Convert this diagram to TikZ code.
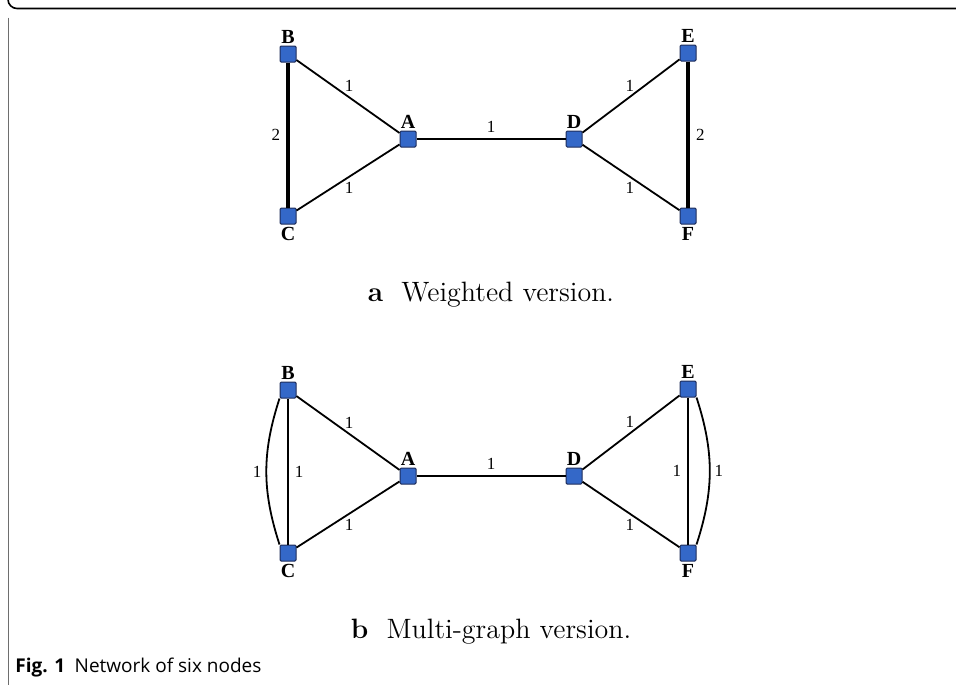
\documentclass[tikz,border=0pt]{standalone}
\usepackage{fontspec}
\newfontfamily\graphfont{Liberation Serif}
\newfontfamily\capfont{Open Sans}
\usetikzlibrary{positioning}

\definecolor{nodeblue}{RGB}{52,104,200}
\definecolor{nodeedge}{RGB}{30,45,90}
\definecolor{framegray}{RGB}{110,110,110}

\begin{document}
\begin{tikzpicture}[
  x=0.5pt, y=-0.5pt,
  vtx/.style={rectangle, draw=nodeedge, fill=nodeblue, line width=0.5pt,
    minimum size=8pt, inner sep=0pt, rounded corners=0.6pt},
  vname/.style={font=\graphfont\bfseries\fontsize{10}{11}\selectfont, inner sep=1pt},
  link/.style={draw, line width=0.9pt},
  heavy/.style={draw, line width=2pt},
  wt/.style={font=\graphfont\fontsize{8.5}{9}\selectfont, inner sep=1pt},
  subcap/.style={font=\fontsize{14}{16}\selectfont, inner sep=0pt},
]
  \useasboundingbox (0,0) rectangle (956,685);
  % frame
  \draw[line width=0.8pt] (956,8.5) -- (17,8.5) arc[start angle=90, end angle=180, radius=9];
  \draw[framegray, line width=0.5pt] (8,17.5) -- (8,685);

  % (a) weighted version
  \node[vtx, label={[vname]above:B}] (b1) at (288,54) {};
  \node[vtx, label={[vname]below:C}] (c1) at (288,216) {};
  \node[vtx, label={[vname]above:A}] (a1) at (408,139) {};
  \node[vtx, label={[vname]above:D}] (d1) at (574,139) {};
  \node[vtx, label={[vname]above:E}] (e1) at (688,53) {};
  \node[vtx, label={[vname]below:F}] (f1) at (688,216) {};
  \draw[heavy] (b1) -- node[wt, left=2pt] {2} (c1);
  \draw[link] (b1) -- node[wt, above right=1pt and -3pt] {1} (a1);
  \draw[link] (c1) -- node[wt, below right=1pt and -3pt] {1} (a1);
  \draw[link] (a1) -- node[wt, above=2pt] {1} (d1);
  \draw[link] (d1) -- node[wt, above left=1pt and -3pt] {1} (e1);
  \draw[link] (d1) -- node[wt, below left=1pt and -3pt] {1} (f1);
  \draw[heavy] (e1) -- node[wt, right=2pt] {2} (f1);
  \node[subcap] (capa) at (491,295) {\textbf{a}\hspace{0.65em}Weighted version.};

  % (b) multi-graph version
  \node[vtx, label={[vname]above:B}] (b2) at (288,390) {};
  \node[vtx, label={[vname]below:C}] (c2) at (288,553) {};
  \node[vtx, label={[vname]above:A}] (a2) at (408,476) {};
  \node[vtx, label={[vname]above:D}] (d2) at (574,476) {};
  \node[vtx, label={[vname]above:E}] (e2) at (688,389) {};
  \node[vtx, label={[vname]below:F}] (f2) at (688,553) {};
  \draw[link] (b2) -- node[wt, right=2pt] {1} (c2);
  \draw[link] (b2.south west) to[bend right=18] node[wt, left=1pt] {1} (c2.north west);
  \draw[link] (b2) -- node[wt, above right=1pt and -3pt] {1} (a2);
  \draw[link] (c2) -- node[wt, below right=1pt and -3pt] {1} (a2);
  \draw[link] (a2) -- node[wt, above=2pt] {1} (d2);
  \draw[link] (d2) -- node[wt, above left=1pt and -3pt] {1} (e2);
  \draw[link] (d2) -- node[wt, below left=1pt and -3pt] {1} (f2);
  \draw[link] (e2) -- node[wt, left=2pt] {1} (f2);
  \draw[link] (e2.south east) to[bend left=18] node[wt, right=1pt] {1} (f2.north east);
  \node[subcap] (capb) at (491,632) {\textbf{b}\hspace{0.65em}Multi-graph version.};

  \node[anchor=base west, inner sep=0pt, font=\capfont\fontsize{9.5}{11}\selectfont]
    (fig) at (15,672) {\textbf{Fig. 1}\enspace Network of six nodes};
\end{tikzpicture}
\end{document}
